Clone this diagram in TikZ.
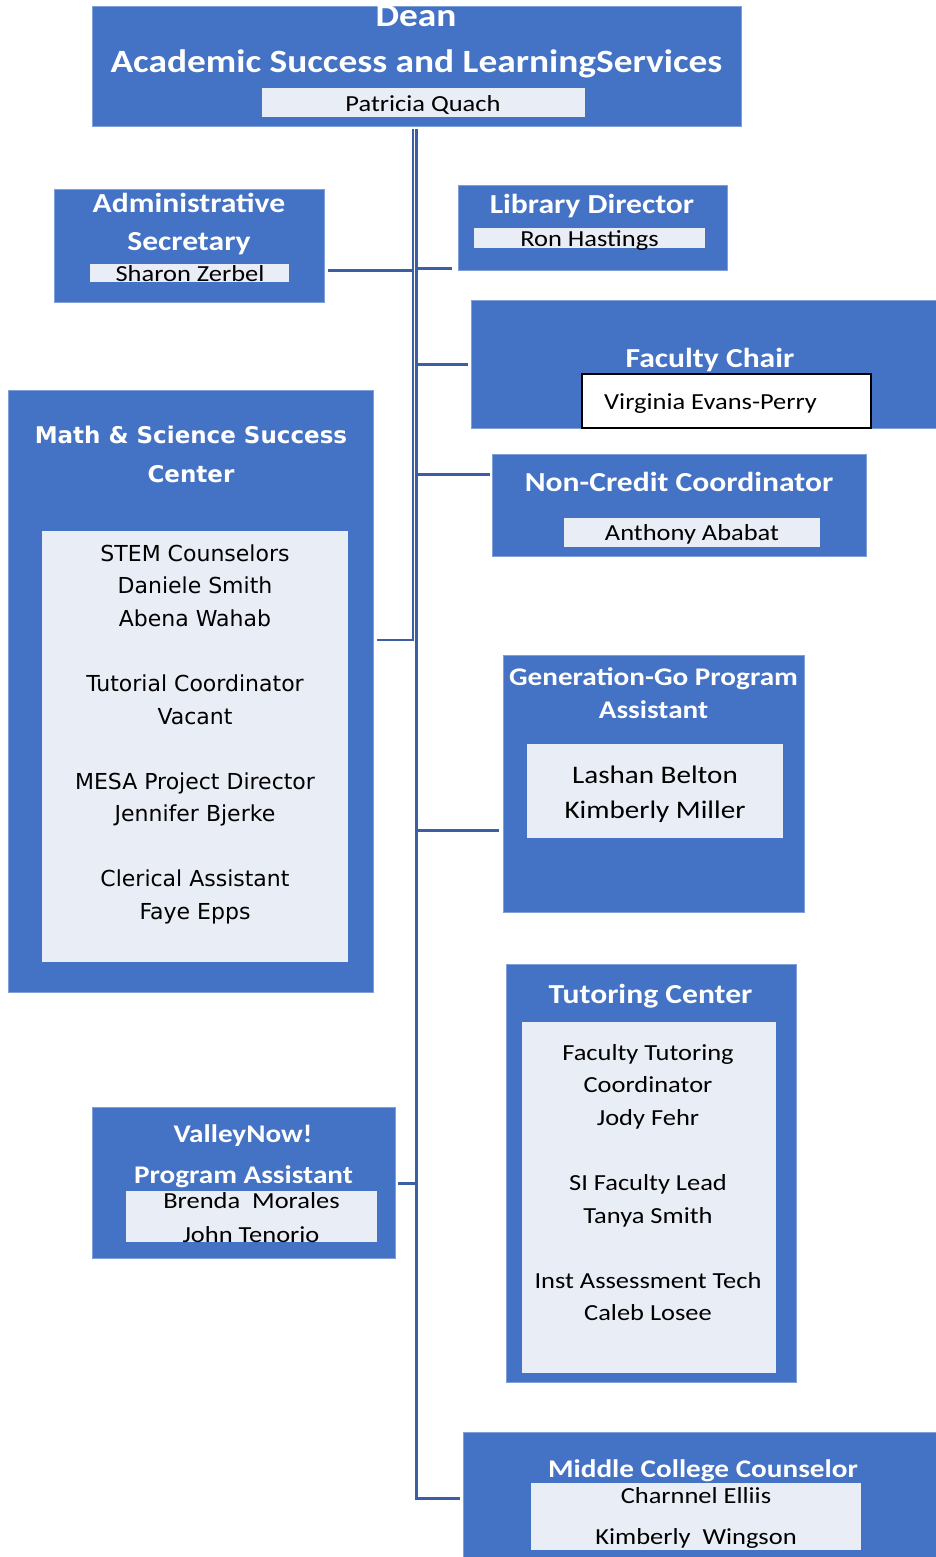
\documentclass[tikz,border=0pt]{standalone}
\usepackage{fontspec}
\setmainfont{Carlito}[FakeStretch=1.15]
\newfontfamily\djv{DejaVu Sans}
\definecolor{boxblue}{HTML}{4472C4}
\definecolor{innerfill}{HTML}{E9EDF6}
\definecolor{conn}{HTML}{3B5EA6}
\definecolor{edgeblue}{HTML}{7F9FD8}
\tikzset{
  bluebox/.style={fill=boxblue, draw=edgeblue, line width=0.8pt, inner sep=0pt, outer sep=0pt},
  innerbox/.style={fill=innerfill, draw=none, inner sep=0pt, outer sep=0pt},
  framedbox/.style={fill=white, draw=black, line width=1.6pt, inner sep=0pt, outer sep=0pt},
  ttl/.style={text=white, font=\bfseries\fontsize{27.5}{30}\selectfont, anchor=base, inner sep=0pt},
  ttlbig/.style={ttl, font=\bfseries\fontsize{32.5}{34}\selectfont},
  ttlsmall/.style={ttl, font=\bfseries\fontsize{25.4}{27}\selectfont},
  ttldj/.style={ttl, font=\djv\bfseries\fontsize{23}{25}\selectfont},
  nm/.style={text=black, font=\fontsize{23}{25}\selectfont, anchor=base, inner sep=0pt},
  nmbig/.style={nm, font=\fontsize{25.3}{27}\selectfont},
  nmdj/.style={nm, font=\djv\fontsize{22}{24}\selectfont},
  link/.style={draw=conn, line width=3pt},
  linkthin/.style={draw=conn, line width=2pt},
}
\newcommand\boxat[6]{\node[#1, minimum width={#4-#2}, minimum height={#5-#3}] (#6) at ({(#2+#4)/2},{(#3+#5)/2}) {};}
\begin{document}
\begin{tikzpicture}[x=1pt,y=-1pt]
\useasboundingbox (0,0) rectangle (936,1557);
\fill[white] (0,0) rectangle (936,1557);

% Dean
\boxat{bluebox}{92}{6}{741}{126}{dean}
\node[ttlbig] (deanT1) at (416,27) {Dean};
\node[ttlbig] (deanT2) at (416.5,73) {Academic Success and LearningServices};
\boxat{innerbox}{262}{88}{585}{117}{deanN}
\node[nm] (deanName) at (423,112) {Patricia Quach};

% Administrative Secretary
\boxat{bluebox}{54}{189}{324}{302}{admin}
\node[ttl] (adminT1) at (189,212) {Administrative};
\node[ttl] (adminT2) at (189,250) {Secretary};
\boxat{innerbox}{90}{264}{289}{282}{adminN}
\node[nm] (adminName) at (190,281) {Sharon Zerbel};

% Library Director
\boxat{bluebox}{458}{185}{727}{270}{lib}
\node[ttl] (libT) at (592,213) {Library Director};
\boxat{innerbox}{474}{228}{705}{248}{libN}
\node[nm] (libName) at (589.5,246) {Ron Hastings};

% Faculty Chair
\boxat{bluebox}{471}{300}{937}{428}{fac}
\node[ttl] (facT) at (710,367) {Faculty Chair};
\boxat{framedbox}{582}{374}{871}{428}{facN}
\node[nm, anchor=base west] (facName) at (604,409) {Virginia Evans-Perry};

% Non-Credit Coordinator
\boxat{bluebox}{492}{454}{866}{556}{nc}
\node[ttl] (ncT) at (679,491) {Non-Credit Coordinator};
\boxat{innerbox}{564}{518}{820}{547}{ncN}
\node[nm] (ncName) at (692,540) {Anthony Ababat};

% Math & Science Success Center
\boxat{bluebox}{8}{390}{373}{992}{math}
\node[ttldj] (mathT1) at (191,443) {Math \& Science Success};
\node[ttldj] (mathT2) at (191,482) {Center};
\boxat{innerbox}{42}{531}{348}{962}{mathN}
\foreach \t/\yy [count=\i] in {STEM Counselors/561, Daniele Smith/593, Abena Wahab/626,
  Tutorial Coordinator/691, Vacant/724, MESA Project Director/789, Jennifer Bjerke/821,
  Clerical Assistant/886, Faye Epps/919}
  \node[nmdj] (mathL\i) at (195,\yy) {\t};

% Generation-Go Program Assistant
\boxat{bluebox}{503}{655}{804}{912}{gen}
\node[ttlsmall] (genT1) at (653.5,685) {Generation-Go Program};
\node[ttlsmall] (genT2) at (653.5,718) {Assistant};
\boxat{innerbox}{527}{744}{783}{838}{genN}
\node[nmbig] (genL1) at (655,783) {Lashan Belton};
\node[nmbig] (genL2) at (655,818) {Kimberly Miller};

% Tutoring Center
\boxat{bluebox}{506}{964}{796}{1382}{tut}
\node[ttl] (tutT) at (650.5,1003) {Tutoring Center};
\boxat{innerbox}{522}{1022}{776}{1373}{tutN}
\foreach \t/\yy [count=\i] in {Faculty Tutoring/1060, Coordinator/1092, Jody Fehr/1125,
  SI Faculty Lead/1190, Tanya Smith/1223, Inst Assessment Tech/1288, Caleb Losee/1320}
  \node[nm] (tutL\i) at (648,\yy) {\t};

% ValleyNow!
\boxat{bluebox}{92}{1107}{395}{1258}{val}
\node[ttlsmall] (valT1) at (243,1142) {ValleyNow!};
\node[ttlsmall] (valT2) at (243.5,1183) {Program Assistant};
\boxat{innerbox}{126}{1191}{377}{1242}{valN}
\node[nm] (valL1) at (251.5,1208) {Brenda\ \ Morales};
\node[nm] (valL2) at (251,1242) {John Tenorio};

% Middle College Counselor
\boxat{bluebox}{463}{1432}{937}{1558}{mid}
\node[ttlsmall] (midT) at (703,1477) {Middle College Counselor};
\boxat{innerbox}{531}{1483}{861}{1550}{midN}
\node[nm] (midL1) at (696,1503) {Charnnel Elliis};
\node[nm] (midL2) at (696,1544) {Kimberly\ \ Wingson};

% Connectors
\coordinate (jM) at (413,640);
\coordinate (jE) at (416.5,1498);
\coordinate (yA) at (0,270);
\coordinate (yL) at (0,268);
\coordinate (yF) at (0,364);
\coordinate (yN) at (0,474);
\coordinate (yG) at (0,830);
\coordinate (yV) at (0,1183);

\draw[linkthin, shorten <=3pt, shorten >=4pt] (dean.south -| jM) -- (jM) -- (math.east |- jM);
\draw[link, shorten <=3pt, shorten >=3pt] (dean.south -| jE) -- (jE) -- (mid.west |- jE);
\draw[link, shorten <=4pt] (admin.east |- yA) -- (jM |- yA);
\draw[link, shorten >=6pt] (jE |- yL) -- (lib.west |- yL);
\draw[link, shorten >=3pt] (jE |- yF) -- (fac.west |- yF);
\draw[link, shorten >=2pt] (jE |- yN) -- (nc.west |- yN);
\draw[link, shorten >=4pt] (jE |- yG) -- (gen.west |- yG);
\draw[link, shorten <=3pt] (val.east |- yV) -- (jE |- yV);
\end{tikzpicture}
\end{document}
